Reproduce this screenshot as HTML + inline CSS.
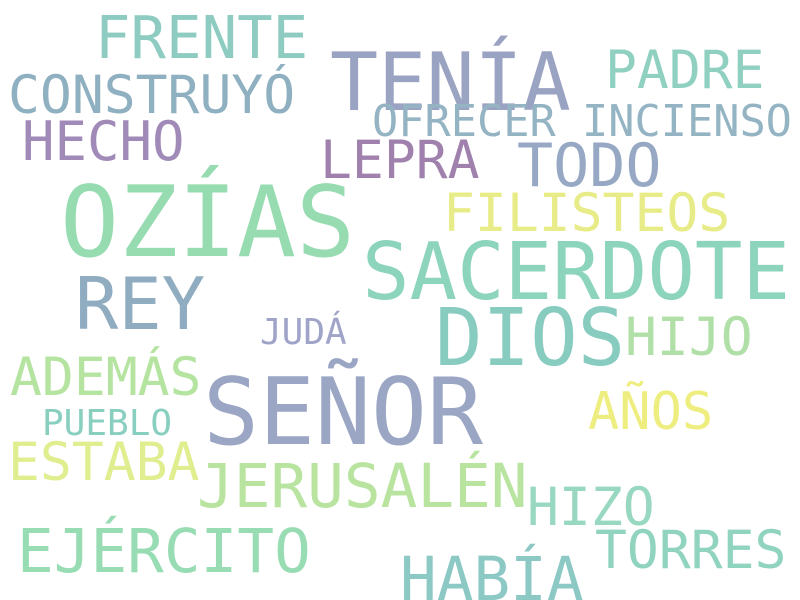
<!DOCTYPE html>
<html><head><meta charset="utf-8"><style>
html,body{margin:0;padding:0;background:#fff;}
svg{display:block;}
text{font-family:"DejaVu Sans Mono","Liberation Mono",monospace;}
</style></head><body>
<svg width="800" height="600" viewBox="0 0 800 600">
<text x="95" y="58" font-size="59" fill="#8ecbc0">FRENTE</text>
<text x="330" y="110" font-size="80" fill="#9ba3c2">TENÍA</text>
<text x="605" y="88" font-size="53" fill="#8fd0c0">PADRE</text>
<text x="8" y="113" font-size="53" fill="#8fb0c0">CONSTRUYÓ</text>
<text x="372" y="136" font-size="43.6" fill="#94b4c4">OFRECER INCIENSO</text>
<text x="22" y="160" font-size="54" fill="#a08ab8">HECHO</text>
<text x="320" y="178" font-size="53" fill="#a080ac">LEPRA</text>
<text x="517" y="186" font-size="60" fill="#96a8c4">TODO</text>
<text x="60" y="256" font-size="98" fill="#96dcb0">OZÍAS</text>
<text x="443" y="231" font-size="53" fill="#e8ec88">FILISTEOS</text>
<text x="362" y="299" font-size="79" fill="#8cd4bc">SACERDOTE</text>
<text x="75" y="329" font-size="72" fill="#90acc0">REY</text>
<text x="435" y="365" font-size="79" fill="#88ccc0">DIOS</text>
<text x="625" y="355" font-size="53" fill="#b0e0a8">HIJO</text>
<text x="260" y="344" font-size="36" fill="#a0a4c8">JUDÁ</text>
<text x="10" y="395" font-size="53" fill="#b4e4a0">ADEMÁS</text>
<text x="203" y="444" font-size="93" fill="#9aa6c4">SEÑOR</text>
<text x="588" y="429" font-size="52" fill="#eeee80">AÑOS</text>
<text x="42" y="435" font-size="36" fill="#88cfc0">PUEBLO</text>
<text x="8" y="480" font-size="53" fill="#e0ee90">ESTABA</text>
<text x="197" y="507" font-size="61" fill="#b8e4a0">JERUSALÉN</text>
<text x="527" y="525" font-size="53" fill="#98d8c0">HIZO</text>
<text x="595" y="568" font-size="53" fill="#90d4c0">TORRES</text>
<text x="17" y="572" font-size="61" fill="#98dcb4">EJÉRCITO</text>
<text x="400" y="600" font-size="61" fill="#8cc8c4">HABÍA</text>
</svg>
</body></html>
